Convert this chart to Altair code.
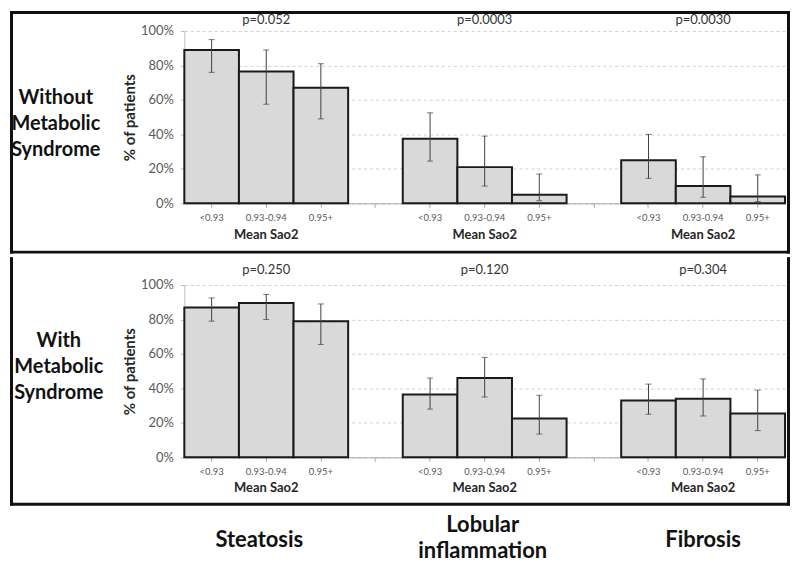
import altair as alt
import pandas as pd

# ---- data ----
groups = ["Steatosis", "Lobular inflammation", "Fibrosis"]
sao2_levels = ["<0.93", "0.93-0.94", "0.95+"]

pvals_without = ["p=0.052", "p=0.0003", "p=0.0030"]
pvals_with = ["p=0.250", "p=0.120", "p=0.304"]

# percent of patients (Steatosis x3, Lobular x3, Fibrosis x3)
without_pct = [89, 76.5, 67, 37.5, 21, 5, 25, 10, 4]
without_lo = [76, 57.5, 49, 24.5, 10, 1.5, 14.5, 3.5, 1]
without_hi = [95, 89, 81, 52.5, 39, 17, 40, 27, 16.5]

with_pct = [87, 89.5, 79, 36.5, 46, 22.5, 33, 34, 25.5]
with_lo = [79, 80, 65.5, 28, 35, 13.5, 25, 24, 15.5]
with_hi = [92.5, 94.5, 89, 46, 58, 36, 42.5, 45.5, 39]

y_ticks = [0, 0.2, 0.4, 0.6, 0.8, 1.0]

row1_label = ["Without", "Metabolic", "Syndrome"]
row2_label = ["With", "Metabolic", "Syndrome"]

FONT = "Lato"

slot_domain = []
for gi, g in enumerate(groups):
    slot_domain += [f"{g}|{s}" for s in sao2_levels]
    if gi < len(groups) - 1:
        slot_domain.append(f"gap{gi + 1}")


def mid_slot(g):
    return f"{g}|{sao2_levels[1]}"


def bar_table(pct, lo, hi):
    rows = []
    for gi, g in enumerate(groups):
        for si, s in enumerate(sao2_levels):
            k = gi * 3 + si
            rows.append({"slot": f"{g}|{s}", "pct": pct[k] / 100,
                         "lo": lo[k] / 100, "hi": hi[k] / 100})
    return pd.DataFrame(rows)


def group_table(pvals):
    return pd.DataFrame({"slot": [mid_slot(g) for g in groups], "p": pvals})


x_enc = alt.X(
    "slot:N",
    scale=alt.Scale(domain=slot_domain, paddingInner=0, paddingOuter=0),
    title=None,
    axis=alt.Axis(
        labelExpr="indexof(datum.value, '|') >= 0 ? split(datum.value, '|')[1] : ''",
        labelFontSize=9.5, labelColor="#595959", labelAngle=0,
        labelPadding=5, domainColor="#a6a6a6", tickColor="#a6a6a6", tickSize=4,
        grid=False,
    ),
)

y_scale = alt.Scale(domain=[0, 1], nice=False)
y_axis = alt.Axis(
    format=".0%", values=y_ticks, grid=True, gridDash=[3, 3], gridColor="#d0d0d0",
    domainColor="#bfbfbf", tickColor="#bfbfbf", tickSize=4,
    labelFontSize=13, labelColor="#595959", labelPadding=7,
    title="% of patients", titleFontSize=15, titleFontWeight="bold",
    titleColor="#262626", titlePadding=3,
)

W, H = 603, 173
ONE = alt.Data(values=[{"k": 0}])
FL, FR = -173.5, 606.5  # frame line centres (left / right)


def label_line(text, x, y, size):
    return alt.Chart(ONE).mark_text(font=FONT, fontSize=size, fontWeight="bold",
                                    color="#111111", align="center",
                                    baseline="middle", text=text).encode(
        x=alt.value(x), y=alt.value(y)
    )


def rule(x, x2, y, y2):
    return alt.Chart(ONE).mark_rule(color="#111111", strokeWidth=3).encode(
        x=alt.value(x), x2=alt.value(x2), y=alt.value(y), y2=alt.value(y2)
    )


def group_text(slots, texts, y, size, dx=0):
    df = pd.DataFrame({"slot": slots, "t": texts})
    return alt.Chart(df).mark_text(font=FONT, fontSize=size, fontWeight="bold",
                                   color="#111111", align="center",
                                   baseline="middle", dx=dx).encode(
        x=x_enc, y=alt.value(y), text="t:N"
    )


def make_row(pct, lo, hi, pvals, p_y, mean_y):
    bars_df = bar_table(pct, lo, hi)
    grp_df = group_table(pvals)
    base = alt.Chart(bars_df)

    bars = base.mark_bar(fill="#d9d9d9", stroke="#1a1a1a", strokeWidth=2).encode(
        x=x_enc, y=alt.Y("pct:Q", scale=y_scale, axis=y_axis)
    )
    err = base.mark_rule(color="#404040", strokeWidth=1).encode(
        x=x_enc, y=alt.Y("lo:Q", scale=y_scale, axis=y_axis), y2="hi:Q"
    )
    cap_lo = base.mark_tick(color="#404040", size=6, thickness=1).encode(
        x=x_enc, y=alt.Y("lo:Q", scale=y_scale, axis=y_axis)
    )
    cap_hi = base.mark_tick(color="#404040", size=6, thickness=1).encode(
        x=x_enc, y=alt.Y("hi:Q", scale=y_scale, axis=y_axis)
    )
    gbase = alt.Chart(grp_df)
    ptext = gbase.mark_text(font=FONT, fontSize=13, color="#333333",
                            baseline="middle").encode(
        x=x_enc, y=alt.value(p_y), text="p:N"
    )
    mean_text = gbase.mark_text(font=FONT, fontSize=13, fontWeight="bold",
                                color="#262626", baseline="middle").encode(
        x=x_enc, y=alt.value(mean_y), text=alt.value("Mean Sao2")
    )
    return [bars, err, cap_lo, cap_hi, ptext, mean_text]


row1_layers = make_row(without_pct, without_lo, without_hi, pvals_without, -11, 205)
row1_layers += [label_line(t, -129, 67 + 26.5 * i, 20) for i, t in enumerate(row1_label)]
row1_layers += [
    rule(FL, FL, -20, 223.5),
    rule(FR, FR, -20, 223.5),
    rule(FL - 1.5, FR + 1.5, -18.5, -18.5),
    rule(FL - 1.5, FR + 1.5, 222, 222),
]
row1 = alt.layer(*row1_layers).properties(width=W, height=H)

row2_layers = make_row(with_pct, with_lo, with_hi, pvals_with, -15, 203.7)
row2_layers += [label_line(t, -126, 56.7 + 25.9 * i, 20) for i, t in enumerate(row2_label)]
row2_layers += [
    rule(FL, FL, -28, 221.5),
    rule(FR, FR, -28, 221.5),
    rule(FL - 1.5, FR + 1.5, 220, 220),
    group_text([mid_slot(groups[0])], ["Steatosis"], 255.5, 22, dx=-7),
    group_text([mid_slot(groups[2])], ["Fibrosis"], 255.5, 22),
    group_text([mid_slot(groups[1])], ["Lobular"], 240.5, 22, dx=-2),
    group_text([mid_slot(groups[1])], ["inflammation"], 267, 22, dx=-2),
]
row2 = alt.layer(*row2_layers).properties(width=W, height=H)

chart = (
    alt.vconcat(row1, row2, spacing=0)
    .properties(padding=0)
    .configure(font=FONT)
    .configure_view(strokeWidth=0)
)

chart.save("out.html", embed_options={"renderer": "svg", "actions": False})
